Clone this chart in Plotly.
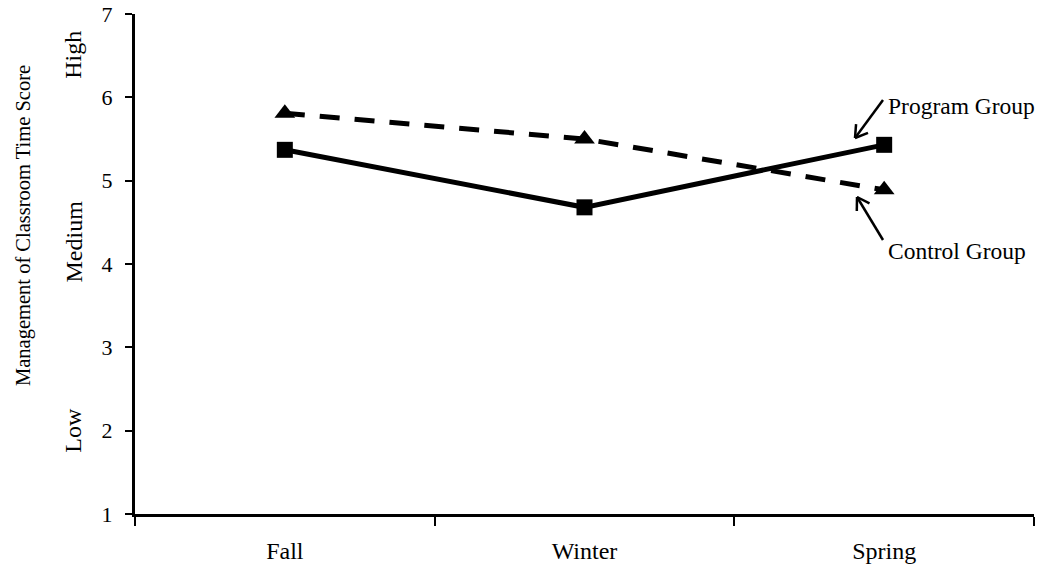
import math
import plotly.graph_objects as go

seasons = ["Fall", "Winter", "Spring"]
program_group = [5.37, 4.68, 5.43]
control_group = [5.81, 5.50, 4.89]
y_ticks = [1, 2, 3, 4, 5, 6, 7]
level_labels = ["Low", "Medium", "High"]
level_values = [2.0, 4.27, 6.51]

FONT = "Liberation Serif, Times New Roman, serif"
W, H = 1040, 564
ML, MR, MT, MB = 135, 6, 14, 50
PW, PH = W - ML - MR, H - MT - MB

fig = go.Figure()
fig.add_trace(go.Scatter(
    x=seasons, y=control_group, mode="lines+markers", name="Control Group",
    line=dict(color="black", width=5, dash="20px,15px"),
    marker=dict(symbol="triangle-up", size=18, color="black"),
))
fig.add_trace(go.Scatter(
    x=seasons, y=program_group, mode="lines+markers", name="Program Group",
    line=dict(color="black", width=5),
    marker=dict(symbol="square", size=16, color="black"),
))

fig.update_layout(
    width=W, height=H,
    margin=dict(l=ML, r=MR, t=MT, b=MB, autoexpand=False),
    paper_bgcolor="white", plot_bgcolor="white",
    showlegend=False,
    font=dict(family=FONT, color="black", size=22),
    xaxis=dict(
        type="category", range=[-0.5, 2.5], tickson="boundaries",
        showline=True, linecolor="black", linewidth=3, automargin=False,
        ticks="outside", ticklen=9, tickwidth=2, tickcolor="black",
        showgrid=False, zeroline=False, ticklabelstandoff=13,
        tickfont=dict(size=24, family=FONT),
    ),
    yaxis=dict(
        range=[1, 7], tickvals=y_ticks, automargin=False,
        showline=True, linecolor="black", linewidth=3,
        ticks="outside", ticklen=7, tickwidth=2, tickcolor="black",
        showgrid=False, zeroline=False, ticklabelstandoff=8,
        tickfont=dict(size=22, family=FONT),
    ),
)


def px2paper(px, py):
    return (px - ML) / PW, (H - MB - py) / PH


# y axis title
fig.add_annotation(
    text="Management of Classroom Time Score", xref="paper", yref="paper",
    x=px2paper(23, 0)[0], y=px2paper(0, 226)[1], xanchor="center", yanchor="middle",
    textangle=-90, showarrow=False, font=dict(size=20.5, family=FONT),
)
for lbl, val in zip(level_labels, level_values):
    fig.add_annotation(
        text=lbl, xref="paper", yref="y", x=px2paper(73, 0)[0], y=val,
        xanchor="center", yanchor="middle", textangle=-90,
        showarrow=False, font=dict(size=24, family=FONT),
    )

# group labels
for txt, (lx, ly) in [("Program Group", (886, 106)), ("Control Group", (886, 251))]:
    px_, py_ = px2paper(lx, ly)
    fig.add_annotation(
        text=txt, xref="paper", yref="paper", x=px_, y=py_,
        xanchor="left", yanchor="middle", showarrow=False,
        font=dict(size=23.5, family=FONT),
    )


def arrow(tail, head, arm=14, ang=32):
    tx, ty = tail
    hx, hy = head
    dx, dy = tx - hx, ty - hy
    L = math.hypot(dx, dy)
    ux, uy = dx / L, dy / L
    pts = []
    for s in (1, -1):
        a = math.radians(ang * s)
        rx = ux * math.cos(a) - uy * math.sin(a)
        ry = ux * math.sin(a) + uy * math.cos(a)
        pts.append((hx + rx * arm, hy + ry * arm))
    segs = [(tail, head), (head, pts[0]), (head, pts[1])]
    for (ax_, ay_), (bx_, by_) in segs:
        x0, y0 = px2paper(ax_, ay_)
        x1, y1 = px2paper(bx_, by_)
        fig.add_shape(type="line", xref="paper", yref="paper",
                      x0=x0, y0=y0, x1=x1, y1=y1,
                      line=dict(color="black", width=2.5))


arrow((883, 100), (855, 138))
arrow((883, 240), (857, 197))

fig.write_html(
    "out.html",
    config={"displayModeBar": False},
    post_script="document.body.style.margin='0';document.body.style.overflow='hidden';",
)
